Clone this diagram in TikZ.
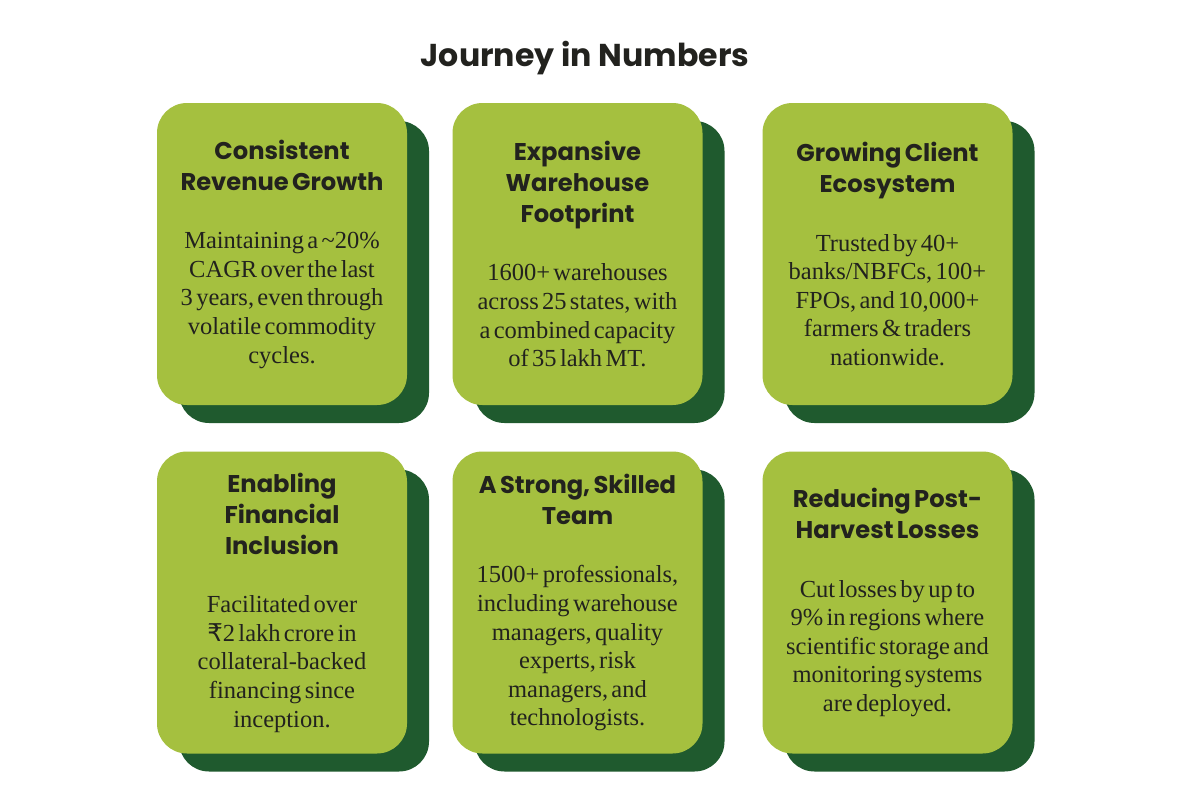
\documentclass[tikz,border=0pt]{standalone}
\usepackage{fontspec}
\setmainfont{Liberation Serif}
\newfontfamily\headsans{Poppins}
\newfontfamily\rupeefont{DejaVu Sans}
\definecolor{leaf}{RGB}{165,192,63}
\definecolor{forest}{RGB}{31,90,46}
\definecolor{ink}{RGB}{34,34,30}
\newcommand{\headfont}{\headsans\bfseries\fontsize{24.2}{31}\selectfont}
\newcommand{\bodyfont}{\rmfamily\fontsize{24.5}{28.6}\selectfont}

\begin{document}
\begin{tikzpicture}[x=1pt, y=-1pt,
  card/.style={fill=leaf, rounded corners=30pt, minimum width=250pt, minimum height=302pt, inner sep=0pt},
  cardshadow/.style={card, fill=forest},
  cardtext/.style={text=ink, text width=248pt, align=center, inner sep=0pt}]

\useasboundingbox[fill=white] (0,0) rectangle (1200,800);

% Title
\node[text=ink, font={\headsans\bfseries\fontsize{31.6}{38}\selectfont}] (title) at (585,58) {Journey in Numbers};

% Shadows behind the cards
\node[cardshadow] (s1) at (304,272) {};
\node[cardshadow] (s2) at (599.5,272) {};
\node[cardshadow] (s3) at (909.5,272) {};
\node[cardshadow] (s4) at (304,620.5) {};
\node[cardshadow] (s5) at (599.5,620.5) {};
\node[cardshadow] (s6) at (909.5,620.5) {};

% Cards, top row
\node[card] (c1) at (282,254) {};
\node[cardtext] (t1) at (c1) {{\headfont Consistent\\Revenue Growth\par}\vspace{30pt}
  {\bodyfont Maintaining a \textasciitilde20\%\\CAGR over the last\\3 years, even through\\volatile commodity\\cycles.\par}};

\node[card] (c2) at (577.5,254) {};
\node[cardtext] (t2) at (c2) {{\headfont Expansive\\Warehouse\\Footprint\par}\vspace{30pt}
  {\bodyfont 1600+ warehouses\\across 25 states, with\\a combined capacity\\of 35 lakh MT.\par}};

\node[card] (c3) at (887.5,254) {};
\node[cardtext] (t3) at (c3) {{\headfont Growing Client\\Ecosystem\par}\vspace{30pt}
  {\bodyfont Trusted by 40+\\banks/NBFCs, 100+\\FPOs, and 10,000+\\farmers \& traders\\nationwide.\par}};

% Cards, bottom row
\node[card] (c4) at (282,602.5) {};
\node[cardtext] (t4) at (c4) {{\headfont Enabling\\Financial\\Inclusion\par}\vspace{30pt}
  {\bodyfont Facilitated over\\{\rupeefont ₹}2 lakh crore in\\collateral-backed\\financing since\\inception.\par}};

\node[card] (c5) at (577.5,602.5) {};
\node[cardtext] (t5) at (c5) {{\headfont A Strong, Skilled\\Team\par}\vspace{30pt}
  {\bodyfont 1500+ professionals,\\including warehouse\\managers, quality\\experts, risk\\managers, and\\technologists.\par}};

\node[card] (c6) at (887.5,602.5) {};
\node[cardtext] (t6) at (c6) {{\headfont Reducing Post-\\Harvest Losses\par}\vspace{30pt}
  {\bodyfont Cut losses by up to\\9\% in regions where\\scientific storage and\\monitoring systems\\are deployed.\par}};

\end{tikzpicture}
\end{document}
